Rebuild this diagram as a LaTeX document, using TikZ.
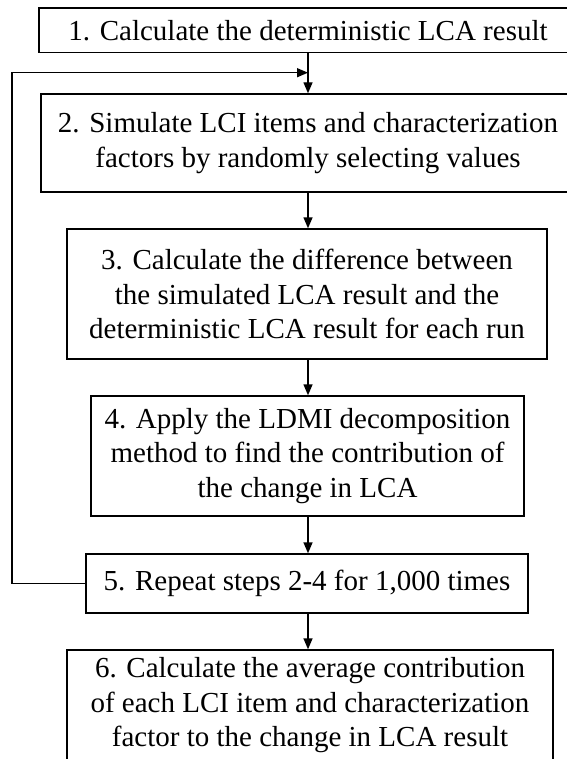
\documentclass[tikz,border=0pt]{standalone}
\usepackage{fontspec}
\setmainfont{Liberation Serif}
\usetikzlibrary{arrows.meta}
\begin{document}
\begin{tikzpicture}[x=1pt,y=-1pt,
  stepbox/.style={draw=black,line width=1.4pt,fill=white,align=center,inner sep=0pt,
    font=\fontsize{29}{34.5}\selectfont},
  arr/.style={line width=1.4pt,-{Triangle[length=11pt,width=9pt]}}]
\useasboundingbox (0,0) rectangle (566,759);
\node[stepbox,minimum width=538pt,minimum height=44.7pt] (b1) at (308,30.4) {1. Calculate the deterministic LCA result};
\node[stepbox,minimum width=534pt,minimum height=98pt] (b2) at (308,143) {2. Simulate LCI items and characterization\\factors by randomly selecting values};
\node[stepbox,minimum width=480pt,minimum height=130pt] (b3) at (307,294) {3. Calculate the difference between\\the simulated LCA result and the\\deterministic LCA result for each run};
\node[stepbox,minimum width=433pt,minimum height=120pt] (b4) at (307.5,456) {4. Apply the LDMI decomposition\\method to find the contribution of\\the change in LCA};
\node[stepbox,minimum width=442pt,minimum height=59pt] (b5) at (307,583.5) {5. Repeat steps 2-4 for 1,000 times};
\node[stepbox,minimum width=486pt,minimum height=111pt] (b6) at (310,705.5) {6. Calculate the average contribution\\of each LCI item and characterization\\factor to the change in LCA result};
\coordinate (j) at (308,72.7);
\coordinate (c) at (12,583.5);
\draw[arr] (b1.south -| j) -- (b2.north -| j);
\draw[arr] (b2.south -| j) -- (b3.north -| j);
\draw[arr] (b3.south -| j) -- (b4.north -| j);
\draw[arr] (b4.south -| j) -- (b5.north -| j);
\draw[arr] (b5.south -| j) -- (b6.north -| j);
\draw[arr] (b5.west) -- (c) |- (j);
\end{tikzpicture}
\end{document}
